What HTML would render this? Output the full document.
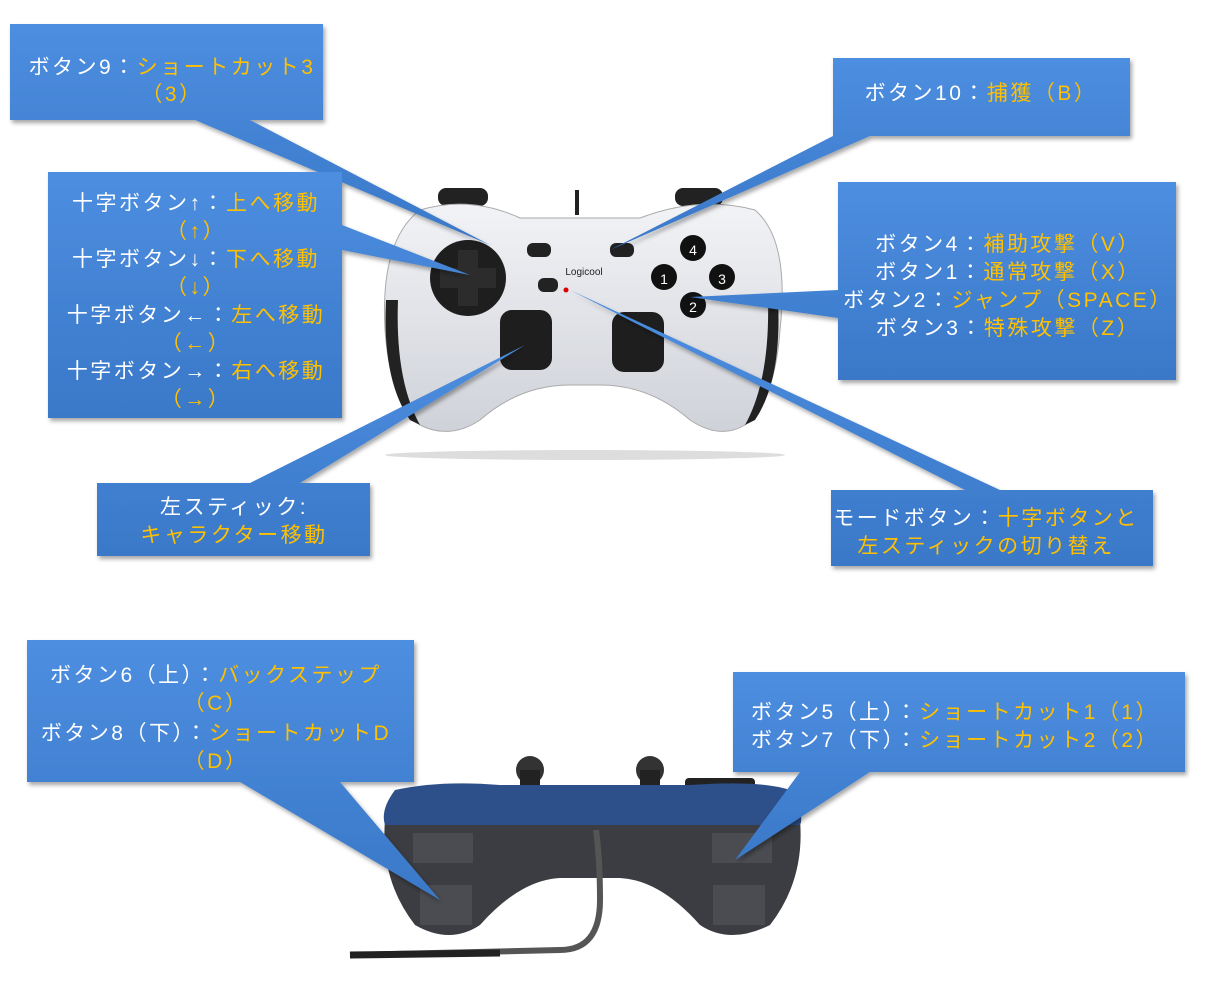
<!DOCTYPE html>
<html><head><meta charset="utf-8"><style>
body{margin:0;background:#fff;width:1212px;height:996px;overflow:hidden}
svg{display:block}
text{font-family:"Liberation Sans","Noto Sans CJK JP",sans-serif;font-size:21px;fill:#fff;letter-spacing:2.5px;text-anchor:middle}
.y{fill:#ffc000}
</style></head><body>
<svg width="1212" height="996" viewBox="0 0 1212 996">
<defs>
<linearGradient id="bx" x1="0" y1="0" x2="0" y2="1"><stop offset="0" stop-color="#4d8ee0"/><stop offset="1" stop-color="#3a78c8"/></linearGradient>
<linearGradient id="sv" x1="0" y1="0" x2="0" y2="1"><stop offset="0" stop-color="#f2f3f6"/><stop offset="1" stop-color="#cfd2d9"/></linearGradient>
<filter id="sh"><feDropShadow dx="2" dy="3" stdDeviation="2" flood-color="#000" flood-opacity="0.35"/></filter>
</defs>

<!-- top controller -->
<g>
<ellipse cx="585" cy="455" rx="200" ry="5" fill="#ddd"/>
<path d="M577 190 V215" stroke="#222" stroke-width="4" fill="none"/>
<rect x="438" y="188" width="50" height="18" rx="8" fill="#222"/>
<rect x="675" y="188" width="48" height="18" rx="8" fill="#222"/>
<path d="M420 210 Q470 195 520 218 L640 218 Q700 195 755 210 Q790 240 780 330 Q775 400 745 425 Q720 440 690 420 Q650 385 600 385 L570 385 Q520 385 480 420 Q450 440 420 425 Q390 400 385 330 Q380 240 420 210 Z" fill="url(#sv)" stroke="#aaa"/>
<path d="M386 300 Q382 380 410 420 L420 425 Q395 380 398 300 Z" fill="#222"/>
<path d="M778 300 Q782 380 755 420 L745 425 Q770 380 768 300 Z" fill="#222"/>
<circle cx="468" cy="278" r="38" fill="#1e1e1e"/>
<path d="M458 250 h20 v18 h18 v20 h-18 v18 h-20 v-18 h-18 v-20 h18 z" fill="#2c2c2c"/>
<rect x="500" y="310" width="52" height="60" rx="12" fill="#1e1e1e"/>
<rect x="612" y="312" width="52" height="60" rx="12" fill="#1e1e1e"/>
<rect x="527" y="243" width="24" height="14" rx="6" fill="#222"/>
<rect x="610" y="243" width="24" height="14" rx="6" fill="#222"/>
<rect x="538" y="278" width="20" height="14" rx="6" fill="#222"/>
<circle cx="566" cy="290" r="2.5" fill="#d00"/>
<text x="584" y="275" style="font-size:10px;fill:#222;letter-spacing:0">Logicool</text>
<circle cx="693" cy="248" r="13" fill="#111"/><text x="693" y="255" style="font-size:14px;letter-spacing:0">4</text>
<circle cx="664" cy="277" r="13" fill="#111"/><text x="664" y="284" style="font-size:14px;letter-spacing:0">1</text>
<circle cx="722" cy="277" r="13" fill="#111"/><text x="722" y="284" style="font-size:14px;letter-spacing:0">3</text>
<circle cx="693" cy="305" r="13" fill="#111"/><text x="693" y="312" style="font-size:14px;letter-spacing:0">2</text>
</g>

<!-- bottom controller -->
<g>
<circle cx="530" cy="770" r="14" fill="#333"/><circle cx="650" cy="770" r="14" fill="#333"/>
<rect x="520" y="770" width="20" height="20" fill="#222"/><rect x="640" y="770" width="20" height="20" fill="#222"/>
<rect x="685" y="778" width="70" height="18" rx="4" fill="#222"/>
<path d="M385 820 Q380 880 415 925 Q450 945 480 925 Q520 880 560 878 L620 878 Q660 880 700 925 Q730 945 770 925 Q805 880 800 820 Z" fill="#3b3d42"/>
<path d="M395 790 Q440 780 500 785 L690 785 Q760 780 790 790 Q805 815 800 825 L385 825 Q380 810 395 790 Z" fill="#2d4f8a"/>
<rect x="413" y="833" width="60" height="30" fill="#4a4c51"/><rect x="420" y="885" width="52" height="40" fill="#4a4c51"/>
<rect x="712" y="833" width="60" height="30" fill="#4a4c51"/><rect x="713" y="885" width="52" height="40" fill="#4a4c51"/>
<path d="M596 830 Q600 860 600 900 Q600 950 560 950 L350 955" stroke="#555" stroke-width="6" fill="none"/>
<path d="M350 955 L500 953" stroke="#222" stroke-width="7"/>
</g>

<!-- callouts -->
<g fill="url(#bx)" filter="url(#sh)">
<path d="M10 24 H323 V120 H250 L490 245 L195 120 H10 Z"/>
<path d="M48 172 H342 V225 L470 275 L342 250 V418 H48 Z"/>
<path d="M833 58 H1130 V136 H870 L610 250 L833 136 Z"/>
<path d="M838 182 H1176 V380 H838 V318 L690 297 L838 290 Z"/>
<path d="M97 483 H250 L525 345 L300 483 H370 V556 H97 Z"/>
<path d="M831 490 H965 L570 290 L1000 490 H1153 V566 H831 Z"/>
<path d="M27 640 H414 V782 H340 L440 900 L240 782 H27 Z"/>
<path d="M733 672 H1185 V772 H870 L735 860 L800 772 H733 Z"/>
</g>

<g>
<text x="172" y="74">ボタン9：<tspan class="y">ショートカット3</tspan></text>
<text x="172" y="101" class="y">（3）</text>

<text x="196" y="210">十字ボタン↑：<tspan class="y">上へ移動</tspan></text>
<text x="196" y="238" class="y">（↑）</text>
<text x="196" y="266">十字ボタン↓：<tspan class="y">下へ移動</tspan></text>
<text x="196" y="294" class="y">（↓）</text>
<text x="196" y="322">十字ボタン←：<tspan class="y">左へ移動</tspan></text>
<text x="196" y="350" class="y">（←）</text>
<text x="196" y="378">十字ボタン→：<tspan class="y">右へ移動</tspan></text>
<text x="196" y="406" class="y">（→）</text>

<text x="981" y="100">ボタン10：<tspan class="y">捕獲（B）</tspan></text>

<text x="1008" y="251">ボタン4：<tspan class="y">補助攻撃（V）</tspan></text>
<text x="1008" y="279">ボタン1：<tspan class="y">通常攻撃（X）</tspan></text>
<text x="1008" y="307">ボタン2：<tspan class="y">ジャンプ（SPACE）</tspan></text>
<text x="1008" y="335">ボタン3：<tspan class="y">特殊攻撃（Z）</tspan></text>

<text x="234" y="514">左スティック:</text>
<text x="234" y="542" class="y">キャラクター移動</text>

<text x="986" y="525">モードボタン：<tspan class="y">十字ボタンと</tspan></text>
<text x="986" y="553" class="y">左スティックの切り替え</text>

<text x="216" y="682">ボタン6（上）：<tspan class="y">バックステップ</tspan></text>
<text x="216" y="710" class="y">（C）</text>
<text x="216" y="740">ボタン8（下）：<tspan class="y">ショートカットD</tspan></text>
<text x="216" y="768" class="y">（D）</text>

<text x="955" y="719">ボタン5（上）：<tspan class="y">ショートカット1（1）</tspan></text>
<text x="955" y="747">ボタン7（下）：<tspan class="y">ショートカット2（2）</tspan></text>
</g>
</svg>
</body></html>
